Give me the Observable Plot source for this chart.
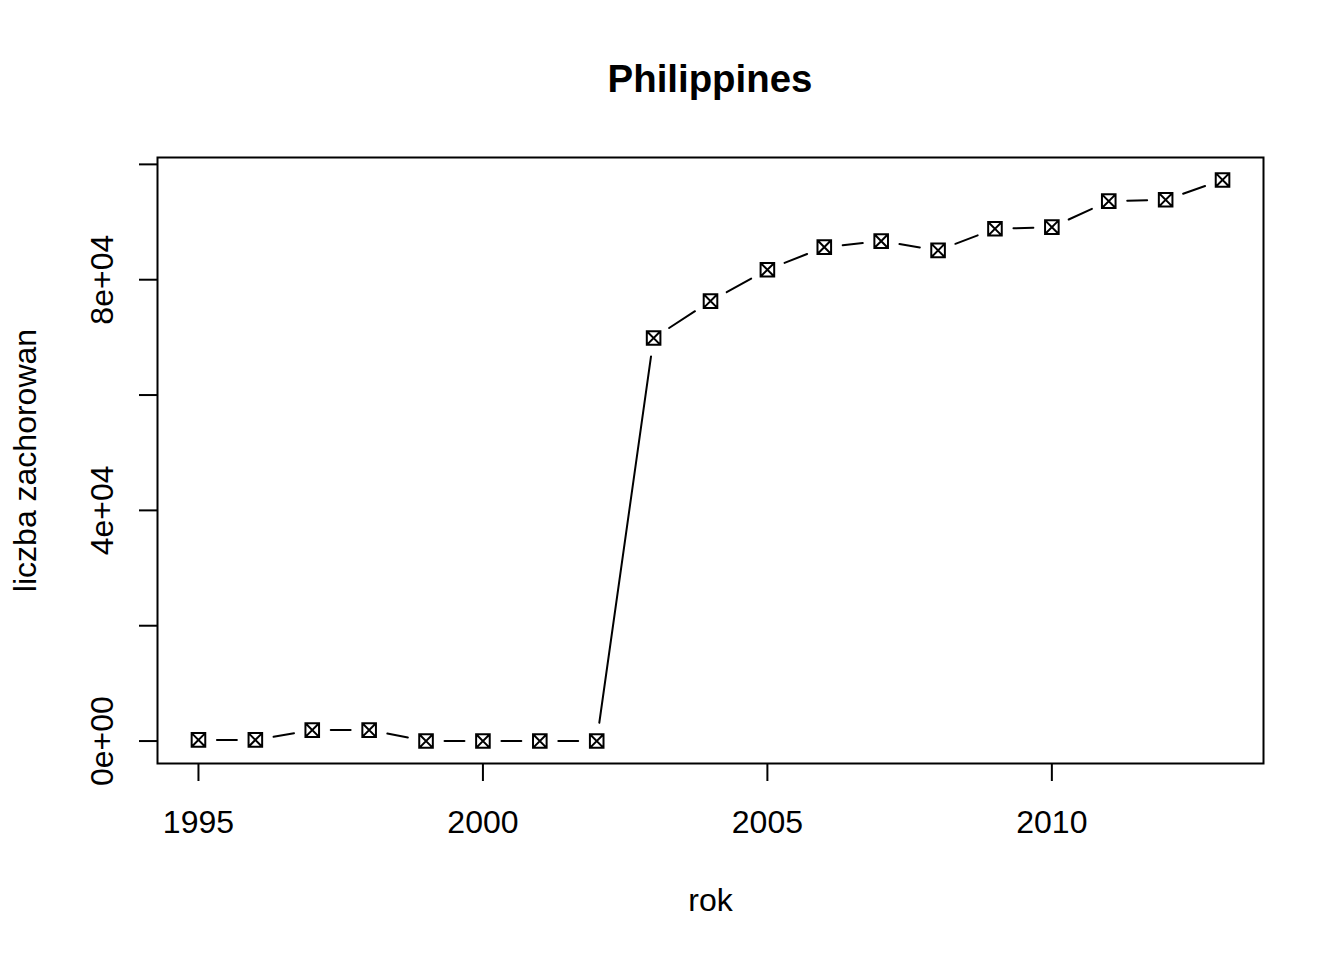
<!DOCTYPE html>
<html>
<head>
<meta charset="utf-8">
<script src="https://cdn.jsdelivr.net/npm/d3@7"></script>
<script src="https://cdn.jsdelivr.net/npm/@observablehq/plot@0.6"></script>
<style>
  body { margin: 0; background: #fff; font-family: "Liberation Sans", Arial, sans-serif; }
  #wrap { position: relative; width: 1344px; height: 960px; }
  #title { position: absolute; top: 60px; left: 157px; width: 1106px; text-align: center;
           font-weight: bold; font-size: 38.4px; line-height: 38.4px; color: #000; }
  #chart { position: absolute; top: 130px; left: 0; }
</style>
</head>
<body>
<div id="wrap">
  <div id="title">Philippines</div>
  <div id="chart"></div>
</div>
<script>
// dane
const years = [1995, 1996, 1997, 1998, 1999, 2000, 2001, 2002, 2003, 2004,
               2005, 2006, 2007, 2008, 2009, 2010, 2011, 2012, 2013]
const cases = [200, 200, 1900, 1900, 0, 0, 0, 0, 69880, 76290,
               81730, 85650, 86690, 85080, 88830, 89110, 93620, 93860, 97300]

const xTicks = [1995, 2000, 2005, 2010]
const yTicks = [0, 20000, 40000, 60000, 80000, 100000]
const yTickLabels = ["0e+00", "", "4e+04", "", "8e+04", ""]

const data = years.map((rok, i) => ({ rok, n: cases[i] }))
const segs = data.slice(1).map((d, i) => ({ x1: data[i].rok, y1: data[i].n, x2: d.rok, y2: d.n }))

// pch = 7: kwadrat z krzyzykiem
const boxX = {
    draw(ctx, size) {
        const r = Math.sqrt(size / Math.PI)
        ctx.moveTo(-r, -r); ctx.lineTo(r, -r); ctx.lineTo(r, r); ctx.lineTo(-r, r); ctx.closePath()
        ctx.moveTo(-r, -r); ctx.lineTo(r, r)
        ctx.moveTo(r, -r); ctx.lineTo(-r, r)
    }
}

const yMax = d3.max(cases)
const ext = 0.04 * yMax

const chart = Plot.plot({
    width: 1344,
    height: 830,
    marginLeft: 157,
    marginRight: 81,
    marginTop: 27,
    marginBottom: 197,
    x: { domain: [1994.28, 2013.72], label: null },
    y: { domain: [-ext, yMax + ext], label: null },
    style: { fontFamily: "'Liberation Sans', Arial, sans-serif", fontSize: "32px", color: "#000", background: "#fff" },
    marks: [
        Plot.frame({ stroke: "#000", strokeWidth: 2 }),
        Plot.axisX({ ticks: xTicks, tickSize: 18, tickPadding: 29, strokeWidth: 2,
                     tickFormat: d => `${d}`, label: null }),
        Plot.axisY({ ticks: yTicks, tickSize: 18, tickPadding: 27, strokeWidth: 2, tickRotate: -90,
                     textAnchor: "middle", lineAnchor: "bottom",
                     tickFormat: d => yTickLabels[yTicks.indexOf(d)], label: null }),
        Plot.arrow(segs, { x1: "x1", y1: "y1", x2: "x2", y2: "y2", bend: 0, headLength: 0,
                           insetStart: 18.5, insetEnd: 18.5, stroke: "#000", strokeWidth: 2 }),
        Plot.dot(data, { x: "rok", y: "n", symbol: boxX, r: 6.8, stroke: "#000", fill: "none", strokeWidth: 2 }),
        Plot.text(["rok"], { text: d => d, frameAnchor: "bottom", dy: 147, lineAnchor: "bottom",
                             fontSize: 32 }),
        Plot.text(["liczba zachorowan"], { text: d => d, frameAnchor: "left", dx: -122, rotate: -90,
                                           textAnchor: "middle", lineAnchor: "bottom", fontSize: 32 })
    ]
})

d3.select('#chart').append(() => chart)
</script>
</body>
</html>
